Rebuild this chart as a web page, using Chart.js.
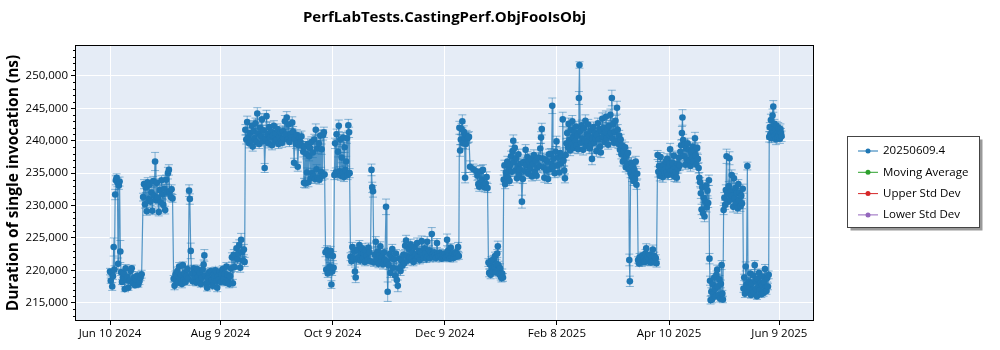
<!DOCTYPE html>
<html>
<head>
<meta charset="utf-8">
<script src="https://cdn.jsdelivr.net/npm/chart.js@4.4.1/dist/chart.umd.min.js"></script>
<style>
html, body { margin: 0; padding: 0; background: #fff; }
#wrap { width: 1000px; height: 350px; }
</style>
</head>
<body>
<div id="wrap"><canvas id="perf-chart" width="1000" height="350"></canvas></div>
<script>
// run dates, as days after Jun 10 2024
var runDays = [
  0.0, 0.4, 0.8, 1.2, 1.6, 2.0, 2.4, 2.8, 3.2, 3.6, 4.0, 4.4, 4.8, 5.2, 5.6, 6.0, 6.5, 7.0, 7.5, 8.0, 8.5, 9.0, 9.5, 10.0, 10.6, 11.2, 11.8, 12.4, 13.0, 13.6, 14.2, 14.8, 15.4, 16.0, 16.6, 17.2,
  18.0, 18.5, 19.0, 19.5, 20.0, 20.5, 21.0, 21.5, 22.0, 22.5, 23.0, 23.5, 24.0, 24.5, 25.0, 25.5, 26.0, 26.5, 27.0, 27.5, 28.0, 28.5, 29.0, 29.5, 30.0, 30.5, 31.0, 31.5, 32.0, 32.5, 33.0, 33.5, 34.0,
  34.6, 35.1, 35.6, 36.1, 36.6, 37.1, 37.6, 38.1, 38.6, 39.1, 39.6, 40.1, 40.6, 41.1, 41.6, 42.1, 42.6, 43.0, 43.4, 43.9, 44.4, 44.9, 45.4, 45.9, 46.4, 46.9, 47.4, 47.9, 48.4, 48.9, 49.4, 49.9, 50.4, 50.9, 51.3, 51.8, 52.3, 52.8, 53.3, 53.8, 54.3, 54.8, 55.3, 55.8, 56.3, 56.8, 57.3, 57.8, 58.3, 58.8, 59.3, 59.8, 60.3, 60.8, 61.3, 61.8, 62.3, 62.8, 63.3, 63.8, 64.3, 64.8, 65.3, 65.8,
  66.3, 66.8, 67.3, 67.8, 68.3, 68.8, 69.3, 69.8, 70.3, 70.8, 71.3, 71.8, 72.3, 72.8, 73.2,
  73.6, 74.1, 74.6, 75.1, 75.6, 76.1, 76.6, 77.1, 77.6, 78.1, 78.6, 79.1, 79.6, 80.1, 80.6, 81.1, 81.6, 82.1, 82.6, 83.1, 83.6, 84.1, 84.6, 85.1, 85.6, 86.1, 86.6, 87.1, 87.6, 88.1, 88.6, 89.1, 89.6, 90.1, 90.6, 91.1, 91.6, 92.1, 92.6, 93.1, 93.6, 94.1, 94.6, 95.1, 95.6, 96.1, 96.6, 97.1, 97.6, 98.1, 98.6, 99.1, 99.6, 100.1, 100.6, 101.1, 101.6, 102.1, 102.6, 103.1, 103.6, 104.1, 104.6,
  105.1, 105.5, 105.9, 106.3, 106.7, 107.1, 107.5, 107.9, 108.3, 108.7, 109.1, 109.5, 109.9, 110.3, 110.7, 111.1, 111.5, 111.9, 112.3, 112.7, 113.1, 113.5, 113.9, 114.3, 114.7, 115.1, 115.5, 115.9, 116.3, 116.7,
  117.2, 117.6, 118.0, 118.4, 118.8, 119.2, 119.6, 120.0, 120.4, 120.8, 121.2, 121.6,
  122.0, 122.4, 122.8, 123.2, 123.6, 124.0, 124.4, 124.8, 125.2, 125.6, 126.0, 126.4, 126.8, 127.2, 127.6, 128.0, 128.4, 128.8, 129.2, 129.6, 130.0, 130.3,
  130.8, 131.3, 131.8, 132.3, 132.8, 133.2, 133.6, 134.1, 134.6, 135.1, 135.6, 136.1, 136.6, 137.1, 137.6, 138.1, 138.6, 139.1, 139.6, 140.1, 140.6, 141.1, 141.6, 142.2, 142.6, 143.0, 143.5, 144.0, 144.5, 145.0, 145.5, 146.0, 146.5, 147.0, 147.5, 148.0, 148.5, 149.0, 149.5, 150.1, 150.6, 151.0, 151.5, 152.0, 152.5, 153.0, 153.5, 154.0, 154.5, 155.0, 155.5, 156.0, 156.5, 157.0, 157.5, 158.0, 158.5,
  159.0, 159.5, 160.0, 160.5, 161.0, 161.5, 162.0, 162.5, 163.0, 163.5, 164.0, 164.5, 165.0, 165.5, 166.0, 166.5, 167.0, 167.5, 168.0, 168.5, 169.0, 169.5, 170.0, 170.5, 171.0, 171.5, 172.0, 172.5, 173.0, 173.5, 174.0, 174.5, 175.0, 175.4, 175.8, 176.3, 176.8, 177.3, 177.8, 178.3, 178.8, 179.3, 179.8, 180.3, 180.8, 181.3, 181.8, 182.3, 182.8, 183.3, 183.8, 184.3, 184.8, 185.3, 185.8, 186.3, 186.8, 187.3, 187.8, 188.3, 188.8, 189.3, 189.7,
  190.0, 190.4, 190.8, 191.2, 191.6, 192.0, 192.4, 192.8, 193.1, 193.5, 193.9, 194.3, 194.7, 195.2, 195.8, 197.6, 199.3, 199.8, 200.3, 200.8, 201.3, 201.8, 202.3, 202.8, 203.3, 203.8, 204.3, 204.8, 205.3,
  205.8, 206.2, 206.6, 207.0, 207.4, 207.8, 208.2, 208.6, 209.0, 209.4, 209.8, 210.2, 210.6, 210.9, 211.3, 211.7, 212.1, 212.5, 212.9, 213.3, 213.7,
  214.1, 214.5, 214.9, 215.3, 215.7, 216.1, 216.5, 216.9, 217.3, 217.7, 218.1, 218.5, 218.9, 219.3, 219.7, 220.1, 220.5, 220.9, 221.3, 221.7, 222.1, 222.5, 222.9, 223.4, 224.0, 224.5, 225.0, 225.5, 226.0, 226.5, 227.0, 227.5, 228.0, 228.5, 229.0, 229.5, 230.0, 230.5, 231.0, 231.5, 232.0, 232.5, 233.0, 233.5, 234.0, 234.4, 234.8, 235.2, 235.7, 236.2, 236.7, 237.2, 237.7, 238.2, 238.7, 239.2, 239.7, 240.1, 240.5, 240.9, 241.3, 241.8, 242.3, 242.8, 243.3, 243.8, 244.3, 244.8, 245.3, 245.8, 246.2, 246.6, 247.0, 247.4,
  247.8, 248.2, 248.6, 249.0, 249.4, 249.8, 250.2, 250.6, 251.0, 251.4, 251.8, 252.2, 252.6, 253.0, 253.4, 253.8, 254.2, 254.6, 255.0, 255.3, 255.7, 256.1, 256.5, 256.9, 257.3, 257.7, 258.1, 258.5, 258.9, 259.3, 259.7, 260.1, 260.5, 260.9, 261.3, 261.7, 262.1, 262.5, 262.9, 263.3, 263.7, 264.1, 264.5, 264.9, 265.3, 265.7, 266.1, 266.5, 266.9, 267.3, 267.7, 268.1, 268.5, 268.9, 269.3, 269.7, 270.1, 270.5, 270.9, 271.3, 271.7, 272.1, 272.5, 272.9, 273.3, 273.7, 274.1, 274.5, 274.9, 275.3, 275.7, 276.1, 276.5, 276.9, 277.3, 277.7, 278.1, 278.5, 278.9, 279.3, 279.7, 280.1, 280.5, 280.9, 281.3, 281.7, 282.1, 282.4, 282.7, 283.1, 283.5, 283.9, 284.3, 284.7, 285.1, 285.5, 285.9, 286.3, 286.7,
  287.2, 287.6, 288.0, 288.4, 288.8, 289.2, 289.6, 290.0, 290.4, 290.8, 291.2, 291.6, 292.0, 292.4, 292.8, 293.2, 293.6, 294.0, 294.4, 294.8, 295.2, 295.6, 296.0, 296.4, 296.8, 297.2,
  297.8, 298.2, 298.6, 299.0, 299.4, 299.8, 300.2, 300.6, 301.0, 301.4, 301.8, 302.2, 302.6, 303.0, 303.4, 303.8, 304.2, 304.6, 305.0, 305.4, 305.8, 306.2, 306.6, 307.0, 307.4, 307.8, 308.2, 308.6, 309.0, 309.4, 309.8, 310.2, 310.6, 311.0, 311.3, 311.7, 312.1, 312.5, 312.9, 313.3, 313.7, 314.1, 314.5, 314.9, 315.3, 315.7, 316.1, 316.5, 316.9, 317.3, 317.7, 318.1, 318.5, 318.9, 319.3, 319.7, 320.1, 320.5, 320.9, 321.3, 321.7, 322.1, 322.5, 322.9, 323.3, 323.7, 324.1, 324.5, 324.9, 325.3, 325.7,
  326.0, 326.3, 326.6, 327.0, 327.4, 327.8, 328.2, 328.6, 329.0, 329.4, 329.8, 330.2, 330.6, 331.0, 331.4, 331.8, 332.2, 332.6, 333.0, 333.3,
  333.7, 334.1, 334.5, 334.9, 335.3, 335.7, 336.1, 336.5, 336.9, 337.3, 337.7, 338.1, 338.5, 338.9, 339.3, 339.7, 340.1, 340.5, 340.9, 341.3, 341.7, 342.1, 342.5, 342.9, 343.3, 343.7, 344.1,
  344.5, 344.9, 345.3, 345.7, 346.1, 346.6, 347.0, 347.4, 347.8, 348.2, 348.6, 349.0, 349.4, 349.8, 350.2, 350.6, 351.0, 351.4, 351.8, 352.2, 352.6, 353.0, 353.4, 353.8, 354.2, 354.6, 355.0, 355.4, 355.8, 356.2, 356.6, 357.0, 357.4, 357.8, 358.2,
  358.5, 358.8, 359.1, 359.4, 359.7, 360.0, 360.3, 360.7, 361.0, 361.3, 361.6, 361.9, 362.2, 362.5, 362.8, 363.1, 363.4, 363.7, 364.0, 364.3, 364.6, 364.9, 365.2
];

// duration of single invocation, ns
var durations = [
  219800, 218400, 219600, 217500, 219100, 223600, 220100, 231700, 233900, 234300, 233600, 221000, 233100, 233700, 222900, 219700, 218200, 218900, 219500, 217100, 220300, 218500, 219000, 217300, 218400, 219900, 220300, 218000, 218900, 217700, 218600, 219200, 217800, 218300, 218900, 219400,
  231300, 233300, 230200, 232800, 229100, 233600, 231000, 233200, 230600, 232000, 229200, 233800, 231500, 236800, 230800, 233500, 231200, 229000, 232400, 230500, 233900, 231700, 230100, 232600, 229300, 234000, 232000, 235000, 235500, 232200, 231300, 232500, 231100,
  218700, 217600, 219400, 218300, 219900, 218100, 220600, 218800, 219300, 217900, 220800, 218500, 219600, 218200, 219100, 220200, 218700, 232300, 231000, 223000, 219500, 218300, 220300, 218800, 219700, 218100, 220200, 219000, 218400, 219600, 217900, 218800, 220100, 220900, 222300, 219200, 218000, 217300, 218800, 219700, 218200, 219900, 218500, 217600, 219300, 218900, 220000, 218300, 217300, 219100, 218600, 219800, 218200, 219400, 220200, 218700, 219500, 218100, 220600, 219300, 218400, 217900, 219100, 220300,
  222000, 218000, 222400, 220500, 222100, 223400, 221700, 222600, 223900, 220400, 224700, 222800, 221500, 223200, 221300,
  241700, 240200, 242900, 240500, 239600, 241200, 240000, 242300, 239100, 241500, 240400, 242700, 239800, 244200, 241100, 239500, 242000, 240700, 243300, 239900, 241600, 235800, 240300, 243800, 241000, 239600, 242100, 240500, 241400, 239300, 240800, 242300, 239900, 241200, 240100, 241800, 239500, 240600, 241300, 240000, 239700, 241500, 240400, 243000, 241000, 243600, 240200, 242500, 239800, 241100, 240500, 242800, 241400, 236600, 240200, 239500, 240900, 236000, 239300, 240500, 239800, 240700, 239200,
  238300, 233500, 239100, 233400, 238000, 235100, 239500, 233600, 237600, 238900, 234200, 239800, 235000, 238200, 234500, 240200, 234100, 241700, 235600, 238800, 234300, 239600, 234000, 240800, 235200, 238700, 234600, 240900, 241300, 234800,
  222800, 220100, 223100, 219500, 222300, 219900, 220600, 223000, 217800, 219800, 222200, 220400,
  234700, 239600, 235100, 241000, 234800, 238300, 242300, 235300, 240200, 234600, 237400, 235000, 240500, 234400, 239000, 235500, 236800, 240400, 234700, 242400, 241300, 235000,
  222100, 221400, 223600, 221800, 222900, 219800, 218900, 221700, 223200, 222000, 223900, 221500, 222700, 223400, 221900, 222600, 221300, 223100, 222200, 221600, 223500, 222800, 221400, 235500, 232800, 232200, 221200, 222400, 224400, 221700, 222900, 221000, 222300, 223700, 221400, 222100, 220900, 222800, 221600, 229800, 221300, 216700, 220800, 222500, 219600, 221900, 223300, 220400, 221700, 219200, 222600, 218500, 217600, 220300, 221800, 219900, 221500,
  220700, 222400, 221100, 223800, 224600, 222200, 221500, 223300, 222000, 224000, 221800, 222700, 221300, 223600, 222400, 221700, 224200, 222100, 223000, 221600, 222800, 224500, 222300, 221900, 223400, 222600, 221800, 224400, 222200, 223100, 221900, 222700, 225600, 222400, 222000, 222800, 222300, 221900, 224200, 222500, 222100, 222700, 222200, 221800, 222400, 222000, 222600, 222100, 221900, 224700, 223000, 222300, 221800, 223500, 222200, 222600, 221900, 222400, 222800, 222100, 222500, 223600, 222200,
  242000, 238500, 240200, 241800, 243000, 239600, 241400, 240600, 234300, 239500, 240800, 240300, 240500, 240600, 236000, 235600, 235300, 234600, 233300, 232900, 233500, 235300, 234000, 235500, 233100, 232800, 233400, 234400, 232700,
  221200, 219600, 220900, 219300, 221500, 220200, 219800, 221700, 220500, 222200, 219700, 221000, 222600, 223700, 220800, 219400, 220300, 219100, 218800, 219500, 218900,
  234000, 236200, 233300, 235100, 234600, 236800, 234300, 235700, 233800, 236300, 237600, 235200, 238400, 240000, 236700, 238900, 235400, 237300, 234200, 236000, 237900, 234800, 235600, 236500, 230600, 234100, 236700, 235300, 238600, 236200, 237500, 234900, 236800, 235700, 237200, 234500, 236400, 237800, 235200, 236900, 234600, 235900, 237400, 236100, 238800, 240500, 241800, 237300, 235900, 234300, 237100, 235400, 236800, 234100, 237900, 235600, 238000, 236400, 245400, 236000, 237300, 235000, 238300, 239900, 236200, 237400, 235100, 238100, 236500, 237600, 243300, 236900, 235400, 234200,
  237800, 239600, 241200, 239000, 242600, 240100, 238500, 241700, 239400, 243000, 240600, 238900, 241300, 240000, 242200, 239300, 240800, 238700, 246600, 251700, 241500, 239700, 242400, 240300, 238600, 241900, 240000, 243100, 239200, 241000, 239800, 242500, 240700, 238800, 241600, 239500, 237200, 240400, 242100, 239700, 241200, 240300, 238400, 240900, 242700, 240200, 241800, 239100, 238200, 241500, 243400, 240600, 242000, 239800, 241300, 243700, 240400, 241900, 239400, 242300, 240800, 244000, 241200, 246600, 240300, 242600, 239700, 241400, 243100, 240000, 245100, 241700, 239500, 240800, 238600, 240200, 237900, 239300, 236800, 238400, 237100, 239000, 235900, 237700, 236400, 238100, 235600, 221600, 218300, 235000, 236600, 234400, 236000, 233800, 235500, 234100, 236800, 233200, 234900,
  221600, 221100, 222000, 221400, 221800, 221200, 222300, 221500, 221900, 221300, 222600, 223400, 221700, 222100, 221400, 221800, 222400, 221200, 221600, 222000, 223200, 221500, 222200, 221300, 221900, 221100,
  237800, 235200, 236100, 234600, 237500, 235000, 235800, 234400, 236300, 235500, 234900, 236800, 235100, 237200, 234700, 235900, 236400, 238700, 235300, 234800, 236600, 235400, 237700, 234500, 236000, 235100, 234300, 236500, 235700, 237400, 236200, 238300, 239300, 241200, 243600, 240100, 237600, 239400, 236300, 238800, 237100, 239600, 236500, 238600, 237000, 236100, 238200, 237400, 239100, 236800, 238400, 240400, 237700, 236300, 238900, 237200, 235800, 234300, 233600, 231900, 229400, 232800, 228800, 231200, 228300, 230600, 233100, 229700, 232300, 230400, 233900,
  221800, 218400, 215400, 216700, 215500, 217800, 216300, 218900, 217100, 216000, 219300, 220100, 217500, 216200, 218600, 215600, 217900, 220800, 216400, 215500,
  229300, 231200, 230100, 232400, 237600, 231800, 230600, 233000, 237300, 230900, 232200, 234700, 231500, 229800, 234200, 231100, 232700, 230400, 231900, 229600, 233300, 230800, 232000, 229900, 231500, 230300, 232600,
  217200, 218900, 216400, 220600, 217800, 236100, 216800, 218300, 217400, 219500, 216200, 218000, 217000, 219200, 216600, 220800, 218400, 217100, 216000, 218700, 217600, 219600, 216900, 218100, 216300, 217700, 219000, 216500, 218200, 220200, 217300, 216800, 218800, 217500, 219300,
  240600, 242100, 241000, 243200, 240400, 241700, 243900, 245300, 241300, 242600, 240800, 241900, 240200, 242300, 241100, 240600, 242000, 240900, 241500, 240300, 241800, 241200, 240700
];

// error bar half-height, in units of 100 ns
var errHundreds = [
  5, 4, 5, 6, 5, 14, 6, 8, 7, 6, 7, 9, 6, 7, 17, 5, 4, 5, 6, 4, 6, 5, 5, 4, 5, 6, 5, 4, 5, 4, 5, 6, 4, 5, 5, 6,
  6, 7, 6, 8, 6, 7, 6, 7, 6, 8, 6, 7, 6, 14, 7, 6, 8, 6, 7, 6, 7, 6, 8, 7, 6, 7, 6, 9, 8, 7, 6, 7, 6,
  5, 6, 5, 5, 6, 5, 6, 5, 5, 6, 5, 6, 5, 5, 6, 5, 5, 9, 8, 12, 5, 6, 5, 5, 6, 5, 6, 5, 5, 6, 5, 5, 6, 7, 9, 6, 5, 5, 6, 5, 6, 5, 6, 5, 5, 6, 5, 5, 6, 5, 6, 5, 5, 6, 5, 5, 6, 5, 6, 5, 5, 6, 5, 6,
  7, 6, 8, 7, 6, 9, 7, 8, 8, 7, 10, 7, 6, 8, 7,
  8, 7, 9, 7, 7, 8, 7, 8, 7, 8, 7, 8, 7, 9, 8, 7, 8, 7, 9, 7, 8, 7, 7, 9, 8, 7, 8, 7, 8, 7, 7, 8, 7, 8, 7, 8, 7, 7, 8, 7, 7, 8, 7, 9, 8, 9, 7, 8, 7, 8, 7, 9, 8, 7, 7, 7, 8, 7, 7, 8, 7, 8, 7,
  8, 7, 8, 7, 8, 7, 8, 7, 7, 8, 7, 8, 7, 8, 7, 8, 7, 9, 7, 8, 7, 8, 7, 8, 7, 8, 7, 8, 8, 7,
  7, 6, 7, 6, 7, 6, 6, 7, 6, 6, 7, 6,
  7, 8, 7, 8, 7, 8, 9, 7, 8, 7, 8, 7, 8, 7, 8, 7, 8, 8, 7, 9, 8, 7,
  6, 6, 7, 6, 6, 7, 8, 6, 7, 6, 7, 6, 6, 7, 6, 6, 6, 7, 6, 6, 7, 6, 6, 9, 8, 9, 6, 6, 8, 6, 7, 6, 6, 7, 6, 6, 7, 6, 6, 12, 7, 15, 7, 6, 7, 6, 7, 6, 6, 7, 6, 8, 9, 7, 6, 7, 6,
  7, 6, 7, 6, 8, 6, 7, 6, 7, 8, 6, 7, 6, 7, 6, 7, 8, 6, 7, 6, 7, 8, 6, 7, 6, 7, 6, 8, 6, 7, 6, 7, 10, 6, 6, 5, 5, 6, 7, 5, 5, 6, 5, 5, 6, 5, 6, 5, 5, 9, 6, 5, 5, 6, 5, 5, 6, 5, 6, 5, 5, 7, 5,
  10, 9, 8, 9, 10, 8, 9, 8, 8, 8, 8, 7, 8, 8, 9, 8, 8, 7, 7, 7, 8, 9, 7, 8, 7, 7, 7, 8, 7,
  6, 6, 7, 6, 6, 7, 6, 6, 7, 6, 6, 7, 6, 8, 6, 6, 7, 6, 6, 7, 6,
  7, 8, 7, 8, 7, 8, 7, 8, 7, 8, 8, 7, 8, 9, 8, 8, 7, 8, 7, 8, 8, 7, 8, 8, 10, 7, 8, 7, 8, 7, 8, 7, 8, 7, 8, 7, 8, 8, 7, 8, 7, 8, 8, 7, 8, 9, 9, 8, 7, 7, 8, 7, 8, 7, 8, 7, 8, 8, 12, 8, 8, 7, 8, 8, 7, 8, 7, 8, 7, 8, 11, 8, 7, 7,
  8, 7, 8, 7, 9, 7, 8, 7, 8, 9, 7, 8, 7, 8, 8, 7, 8, 7, 10, 5, 8, 7, 8, 7, 8, 7, 8, 9, 7, 8, 7, 8, 7, 8, 7, 8, 9, 7, 8, 7, 8, 7, 8, 7, 8, 7, 8, 7, 8, 7, 9, 7, 8, 7, 8, 9, 7, 8, 7, 8, 7, 9, 8, 12, 7, 8, 7, 8, 8, 7, 10, 8, 7, 8, 7, 8, 7, 8, 7, 8, 7, 8, 7, 8, 7, 8, 7, 9, 8, 7, 8, 7, 8, 7, 8, 7, 8, 7, 8,
  5, 5, 6, 5, 5, 6, 5, 5, 6, 5, 6, 7, 5, 5, 6, 5, 6, 5, 5, 6, 7, 5, 6, 5, 5, 6,
  7, 8, 7, 8, 7, 8, 7, 8, 7, 8, 7, 8, 7, 8, 7, 8, 7, 9, 7, 8, 7, 8, 7, 8, 7, 8, 7, 8, 7, 8, 8, 9, 8, 10, 12, 9, 8, 8, 7, 8, 7, 8, 7, 8, 7, 8, 7, 8, 7, 8, 7, 9, 8, 7, 8, 7, 8, 8, 7, 8, 8, 7, 8, 7, 8, 7, 8, 7, 8, 7, 8,
  8, 7, 6, 6, 5, 6, 5, 6, 5, 5, 6, 7, 5, 5, 6, 5, 6, 7, 5, 5,
  7, 8, 7, 8, 11, 7, 8, 7, 10, 8, 7, 8, 7, 8, 7, 8, 7, 8, 7, 8, 7, 8, 7, 8, 7, 8, 7,
  6, 5, 6, 7, 5, 6, 5, 6, 5, 6, 5, 6, 5, 6, 5, 7, 6, 5, 5, 6, 5, 6, 5, 6, 5, 6, 6, 5, 6, 7, 5, 5, 6, 5, 6,
  8, 7, 8, 9, 7, 8, 10, 9, 8, 7, 8, 7, 8, 7, 8, 7, 8, 7, 8, 7, 8, 7, 8
];

var tickDays = [0, 60, 121, 182, 243, 304, 364];
var tickLabels = ["Jun 10 2024", "Aug 9 2024", "Oct 9 2024", "Dec 9 2024", "Feb 8 2025", "Apr 10 2025", "Jun 9 2025"];
var yTicks = [215000, 220000, 225000, 230000, 235000, 240000, 245000, 250000];
var seriesLabels = ["20250609.4", "Moving Average", "Upper Std Dev", "Lower Std Dev"];
var seriesColors = ["#1f77b4", "#2ca02c", "#d62728", "#9467bd"];

var FONT = "'Open Sans', 'DejaVu Sans', sans-serif";

function withCommas(v) {
  return String(v).replace(/\B(?=(\d{3})+(?!\d))/g, ",");
}

var n = Math.min(runDays.length, durations.length, errHundreds.length);
var points = [];
for (var i = 0; i < n; i++) {
  points.push({x: runDays[i], y: durations[i]});
}

var decor = {
  id: 'decor',
  beforeDraw: function(chart) {
    var ctx = chart.ctx, a = chart.chartArea;
    ctx.save();
    ctx.fillStyle = '#ffffff';
    ctx.fillRect(0, 0, chart.width, chart.height);
    ctx.fillStyle = '#e5ecf6';
    ctx.fillRect(a.left, a.top, a.right - a.left, a.bottom - a.top);
    ctx.restore();
  },
  beforeDatasetsDraw: function(chart) {
    // error bars under the markers
    var ctx = chart.ctx, a = chart.chartArea;
    var xs = chart.scales.x, ys = chart.scales.y;
    ctx.save();
    ctx.beginPath();
    ctx.rect(a.left, a.top, a.right - a.left, a.bottom - a.top);
    ctx.clip();
    ctx.strokeStyle = 'rgba(31,119,180,0.5)';
    ctx.lineWidth = 1;
    for (var i = 0; i < n; i++) {
      var px = xs.getPixelForValue(runDays[i]);
      var e = errHundreds[i] * 100;
      var top = ys.getPixelForValue(durations[i] + e);
      var bot = ys.getPixelForValue(durations[i] - e);
      ctx.beginPath();
      ctx.moveTo(px, top); ctx.lineTo(px, bot);
      ctx.moveTo(px - 4, top); ctx.lineTo(px + 4, top);
      ctx.moveTo(px - 4, bot); ctx.lineTo(px + 4, bot);
      ctx.stroke();
    }
    ctx.restore();
  },
  afterDraw: function(chart) {
    var ctx = chart.ctx, a = chart.chartArea, ys = chart.scales.y;
    ctx.save();

    // frame
    ctx.strokeStyle = '#000';
    ctx.lineWidth = 1;
    ctx.strokeRect(Math.round(a.left) - 0.5, Math.round(a.top) - 0.5, Math.round(a.right - a.left) + 1, Math.round(a.bottom - a.top) + 1);

    // minor ticks on the y axis
    ctx.beginPath();
    for (var v = 213000; v <= 254000; v += 1000) {
      if (v % 5000 === 0) continue;
      var py = Math.round(ys.getPixelForValue(v)) + 0.5;
      ctx.moveTo(a.left - 3, py);
      ctx.lineTo(a.left, py);
    }
    ctx.stroke();

    // title
    ctx.fillStyle = '#000';
    ctx.textAlign = 'center';
    ctx.textBaseline = 'middle';
    ctx.font = "bold 15px " + FONT;
    ctx.fillText("PerfLabTests.CastingPerf.ObjFooIsObj", (a.left + a.right) / 2, 18);

    // y axis title
    ctx.save();
    ctx.translate(14, (a.top + a.bottom) / 2);
    ctx.rotate(-Math.PI / 2);
    ctx.font = "bold 15.5px " + FONT;
    ctx.fillText("Duration of single invocation (ns)", 0, 0);
    ctx.restore();

    // legend box
    var bx = 847.5, by = 136.5, bw = 132, bh = 91;
    ctx.fillStyle = 'rgba(0,0,0,0.4)';
    ctx.fillRect(bx + 3, by + 3, bw, bh);
    ctx.fillStyle = '#fff';
    ctx.fillRect(bx, by, bw, bh);
    ctx.strokeStyle = '#444';
    ctx.strokeRect(bx, by, bw, bh);

    ctx.font = "11.5px " + FONT;
    ctx.textAlign = 'left';
    var sets = chart.data.datasets;
    for (var k = 0; k < sets.length; k++) {
      var ry = 151 + k * 21.3;
      ctx.strokeStyle = sets[k].borderColor;
      ctx.lineWidth = 1;
      ctx.beginPath();
      ctx.moveTo(858, ry);
      ctx.lineTo(878, ry);
      ctx.stroke();
      ctx.fillStyle = sets[k].borderColor;
      ctx.beginPath();
      ctx.arc(868, ry, 2.5, 0, Math.PI * 2);
      ctx.fill();
      ctx.fillStyle = '#000';
      ctx.fillText(sets[k].label, 883, ry);
    }
    ctx.restore();
  }
};

var datasets = [{
  label: seriesLabels[0],
  data: points,
  showLine: true,
  borderColor: seriesColors[0],
  backgroundColor: seriesColors[0],
  borderWidth: 1.2,
  pointRadius: 3.3,
  pointBorderWidth: 0,
  pointBackgroundColor: seriesColors[0],
  segment: { borderColor: 'rgba(31,119,180,0.75)' }
}];
for (var s = 1; s < seriesLabels.length; s++) {
  datasets.push({ label: seriesLabels[s], data: [], showLine: true, borderColor: seriesColors[s], backgroundColor: seriesColors[s] });
}

var chart = new Chart(document.getElementById('perf-chart'), {
  type: 'scatter',
  data: { datasets: datasets },
  options: {
    responsive: false,
    animation: false,
    devicePixelRatio: 1,
    layout: { padding: { top: 46, right: 187, left: 0, bottom: 0 } },
    plugins: { legend: { display: false }, tooltip: { enabled: false } },
    scales: {
      x: {
        type: 'linear',
        min: -18.5,
        max: 382.3,
        afterBuildTicks: function(scale) { scale.ticks = tickDays.map(function(d) { return {value: d}; }); },
        afterFit: function(scale) { scale.height = 30; },
        ticks: {
          autoSkip: false, maxRotation: 0, padding: 2, color: '#000',
          font: { family: FONT, size: 11.5 },
          callback: function(value, index) { return tickLabels[index]; }
        },
        grid: { color: '#ffffff', lineWidth: 1, tickColor: '#000', tickLength: 5 },
        border: { display: false }
      },
      y: {
        type: 'linear',
        min: 212330,
        max: 254630,
        afterBuildTicks: function(scale) { scale.ticks = yTicks.map(function(v) { return {value: v}; }); },
        afterFit: function(scale) { scale.width = 76; },
        ticks: {
          padding: 3, color: '#000',
          font: { family: FONT, size: 11.5 },
          callback: function(value) { return withCommas(value); }
        },
        grid: { color: '#ffffff', lineWidth: 1, tickColor: '#000', tickLength: 5 },
        border: { display: false }
      }
    }
  },
  plugins: [decor]
});

if (runDays.length !== durations.length || durations.length !== errHundreds.length) {
  throw new Error("length mismatch: " + runDays.length + " / " + durations.length + " / " + errHundreds.length);
}
</script>
</body>
</html>
